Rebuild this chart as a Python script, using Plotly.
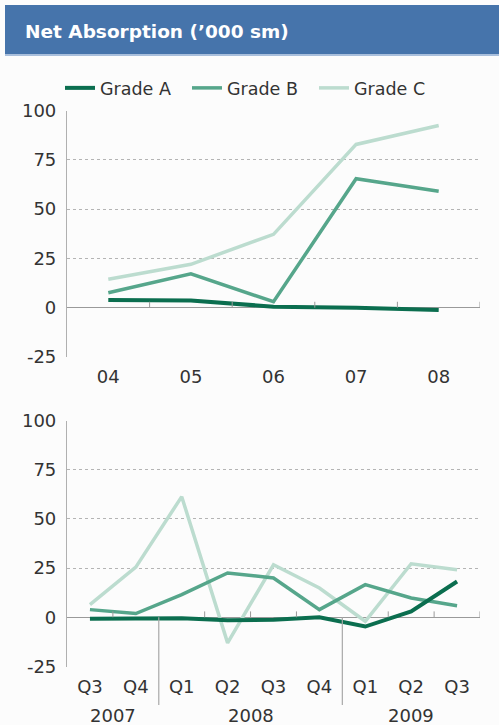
import plotly.graph_objects as go

# ---- data ----------------------------------------------------------------
years = ["04", "05", "06", "07", "08"]
annual_a = [3.9, 3.7, 0.5, 0.0, -1.2]
annual_b = [7.6, 17.2, 3.0, 65.4, 59.1]
annual_c = [14.4, 22.0, 37.2, 82.8, 92.4]

quarters = ["Q3", "Q4", "Q1", "Q2", "Q3", "Q4", "Q1", "Q2", "Q3"]
quarter_years = ["2007", "2007", "2008", "2008", "2008", "2008", "2009", "2009", "2009"]
quarterly_a = [-0.7, -0.5, -0.5, -1.5, -1.3, 0.0, -4.7, 3.0, 18.2]
quarterly_b = [3.9, 1.9, 11.5, 22.5, 20.0, 3.9, 16.6, 9.8, 5.9]
quarterly_c = [6.4, 25.5, 61.3, -13.0, 26.7, 14.9, -2.0, 27.2, 24.2]

y_ticks = [-25, 0, 25, 50, 75, 100]
y_tick_text = ["-25", "0", "25", "50", "75", "100"]

# ---- styling -------------------------------------------------------------
W, H = 499, 725
FONT = "DejaVu Sans"
TXT = "#333333"
COL = {"Grade A": "#0b6e4f", "Grade B": "#56a68b", "Grade C": "#bcdccf"}
WID = {"Grade A": 4, "Grade B": 3.5, "Grade C": 3.5}
Y_MIN, Y_MAX = -25, 100

def px_x(p):
    return p / W

def px_y(p):
    return 1 - p / H

x_dom = [px_x(67), px_x(480)]
top_dom = [px_y(357), px_y(110.5)]
bot_dom = [px_y(666.5), px_y(420.5)]

fig = go.Figure()

series_top = {"Grade A": annual_a, "Grade B": annual_b, "Grade C": annual_c}
series_bot = {"Grade A": quarterly_a, "Grade B": quarterly_b, "Grade C": quarterly_c}

# draw lighter series first so Grade A sits on top
for name in ["Grade C", "Grade B", "Grade A"]:
    fig.add_trace(go.Scatter(
        x=list(range(len(years))), y=series_top[name], name=name,
        mode="lines", line=dict(color=COL[name], width=WID[name]),
        xaxis="x", yaxis="y", legendgroup=name, showlegend=True,
    ))
    fig.add_trace(go.Scatter(
        x=list(range(len(quarters))), y=series_bot[name], name=name,
        mode="lines", line=dict(color=COL[name], width=WID[name]),
        xaxis="x2", yaxis="y2", legendgroup=name, showlegend=False,
    ))

axis_font = dict(family=FONT, size=18, color=TXT)

def yaxis(domain, anchor):
    return dict(
        domain=domain, anchor=anchor, range=[Y_MIN, Y_MAX], automargin=False,
        tickvals=y_ticks, ticktext=y_tick_text, ticks="", ticklabelstandoff=6,
        showgrid=True, gridcolor="#b4b4b4", griddash="dot", gridwidth=1,
        showline=True, linecolor="#b0b0b0", linewidth=1.2,
        zeroline=True, zerolinecolor="#9a9a9a", zerolinewidth=1.2,
        tickfont=axis_font, fixedrange=True,
    )

def xaxis(domain, anchor, labels):
    return dict(
        domain=domain, anchor=anchor, range=[-0.5, len(labels) - 0.5],
        automargin=False,
        tickvals=list(range(len(labels))), ticktext=labels,
        ticks="", showgrid=False, zeroline=False, showline=False,
        ticklabelstandoff=7, tickfont=axis_font, fixedrange=True,
    )

shapes = []

# header band
shapes.append(dict(type="rect", xref="paper", yref="paper",
                   x0=px_x(5), x1=1.0, y0=px_y(54), y1=px_y(5),
                   fillcolor="#4674ab", line=dict(width=0), layer="below"))
shapes.append(dict(type="rect", xref="paper", yref="paper",
                   x0=px_x(5), x1=1.0, y0=px_y(56), y1=px_y(54),
                   fillcolor="#a9bfdc", line=dict(width=0), layer="below"))

# small tick marks on the zero line at category boundaries
tick_up = 3
for i in range(len(years)):
    shapes.append(dict(type="line", xref="x", yref="y",
                       x0=i + 0.5, x1=i + 0.5, y0=0, y1=tick_up,
                       line=dict(color="#9a9a9a", width=1)))

def zero_frac(dom):
    return dom[0] + (0 - Y_MIN) / (Y_MAX - Y_MIN) * (dom[1] - dom[0])

for i in range(len(quarters)):
    b = i + 0.5
    if i + 1 < len(quarters) and quarter_years[i] != quarter_years[i + 1]:
        # year separator running below the axis
        shapes.append(dict(type="line", xref="x2", yref="paper",
                           x0=b, x1=b, y0=zero_frac(bot_dom), y1=px_y(705),
                           line=dict(color="#a8a8a8", width=1.2)))
    else:
        shapes.append(dict(type="line", xref="x2", yref="y2",
                           x0=b, x1=b, y0=0, y1=tick_up,
                           line=dict(color="#9a9a9a", width=1)))

annotations = [dict(
    text="Net Absorption (’000 sm)", xref="paper", yref="paper",
    x=px_x(23), y=px_y(31), xanchor="left", yanchor="middle",
    showarrow=False, font=dict(family=FONT, size=18.5, color="white", weight="bold"),
)]

# year labels centred under their quarters
groups = []
for i, yr in enumerate(quarter_years):
    if groups and groups[-1][0] == yr:
        groups[-1][1].append(i)
    else:
        groups.append([yr, [i]])
for yr, idx in groups:
    annotations.append(dict(
        text=yr, xref="x2", yref="paper",
        x=(idx[0] + idx[-1]) / 2, y=px_y(715), xanchor="center", yanchor="middle",
        showarrow=False, font=axis_font,
    ))

fig.update_layout(
    width=W, height=H, margin=dict(l=0, r=0, t=0, b=0, autoexpand=False),
    paper_bgcolor="#fcfcfc", plot_bgcolor="rgba(0,0,0,0)",
    xaxis=xaxis(x_dom, "y", years),
    yaxis=yaxis(top_dom, "x"),
    xaxis2=xaxis(x_dom, "y2", quarters),
    yaxis2=yaxis(bot_dom, "x2"),
    shapes=shapes, annotations=annotations,
    legend=dict(orientation="h", x=px_x(60), y=px_y(88),
                xanchor="left", yanchor="middle", traceorder="reversed",
                font=dict(family=FONT, size=17.5, color=TXT),
                bgcolor="rgba(0,0,0,0)", entrywidth=82, entrywidthmode="pixels",
                itemwidth=30),
    showlegend=True,
)

fig.write_html("out.html")
